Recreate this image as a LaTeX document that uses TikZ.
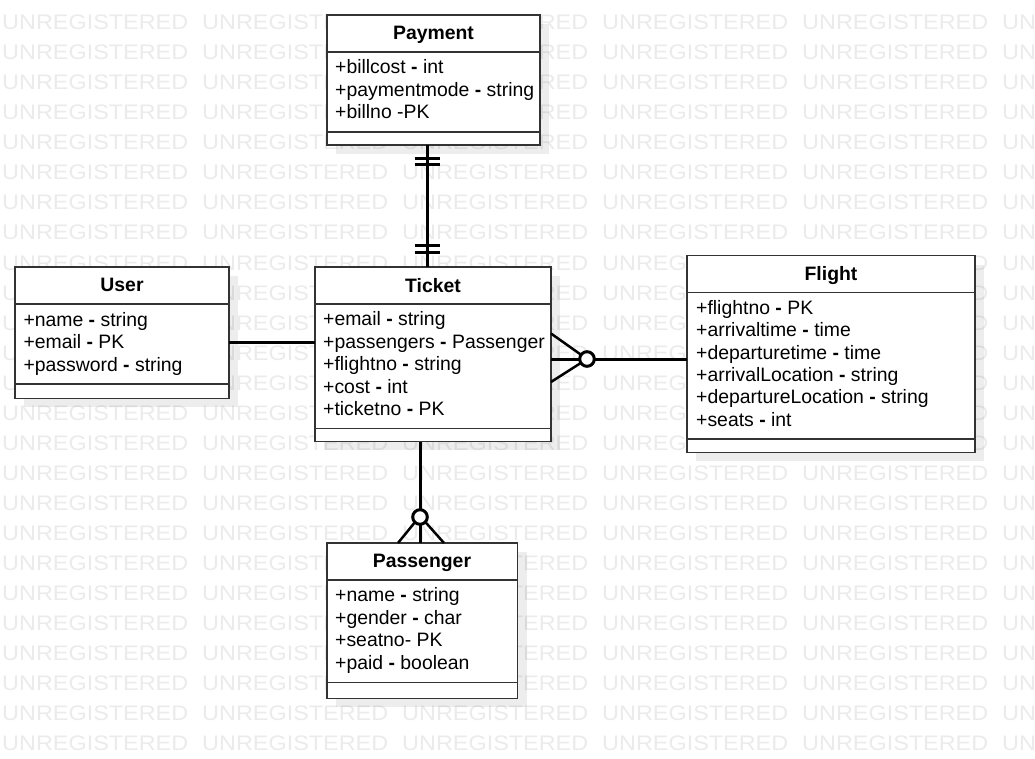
\documentclass[tikz,border=0pt]{standalone}
\usepackage{fontspec}
\setmainfont{Liberation Sans}
\usetikzlibrary{calc}
\begin{document}
\begin{tikzpicture}[x=1pt,y=-1pt,
  box/.style={draw=black!80, line width=1.3pt, fill=white, inner sep=0pt, outer sep=0pt, anchor=north west},
  shadowbox/.style={fill=black, opacity=0.07, draw=none},
  sepline/.style={draw=black!80, line width=1.3pt},
  title/.style={font=\bfseries\fontsize{19.4}{22}\selectfont, anchor=base, inner sep=0pt},
  attr/.style={font=\fontsize{19.4}{22}\selectfont, anchor=base west, inner sep=0pt},
  conn/.style={line width=3pt, draw=black},
  leg/.style={line width=2.5pt, draw=black},
  wm/.style={font=\fontsize{21}{21}\selectfont, text=black!8, anchor=base west, inner sep=0pt}]
\useasboundingbox (0,0) rectangle (1035,759);
\begin{scope}
\clip (0,0) rectangle (1035,759);
\fill[white] (0,0) rectangle (1035,759);
\foreach \r in {0,...,24} {
  \foreach \c in {0,...,5} {
    \node[wm] (w\r-\c) at ({2+200*\c},{30+30*\r}) {\scalebox{1.115}[1]{UNREGISTERED}};
  }
}
\end{scope}
% shadows
\fill[shadowbox] (336,24) rectangle (549,154);
\fill[shadowbox] (324,276) rectangle (560,450);
\fill[shadowbox] (24,276) rectangle (238,407);
\fill[shadowbox] (696,264.5) rectangle (984,461);
\fill[shadowbox] (336,552) rectangle (526.5,707);
% boxes
\node[box, minimum width=213pt, minimum height=130pt] (pay) at (327,15) {};
\node[box, minimum width=236pt, minimum height=174.5pt] (tk) at (315,267) {};
\node[box, minimum width=214pt, minimum height=131.5pt] (us) at (15,267) {};
\node[box, minimum width=288pt, minimum height=197pt] (fl) at (687,255.5) {};
\node[box, minimum width=190.5pt, minimum height=155.5pt] (ps) at (327,543) {};
% compartments
\draw[sepline] ($(pay.north west)+(0,37)$) -- ($(pay.north east)+(0,37)$);
\draw[sepline] ($(pay.north west)+(0,117)$) -- ($(pay.north east)+(0,117)$);
\draw[sepline] ($(tk.north west)+(0,37)$) -- ($(tk.north east)+(0,37)$);
\draw[sepline] ($(tk.north west)+(0,161.7)$) -- ($(tk.north east)+(0,161.7)$);
\draw[sepline] ($(us.north west)+(0,37)$) -- ($(us.north east)+(0,37)$);
\draw[sepline] ($(us.north west)+(0,117)$) -- ($(us.north east)+(0,117)$);
\draw[sepline] ($(fl.north west)+(0,36.8)$) -- ($(fl.north east)+(0,36.8)$);
\draw[sepline] ($(fl.north west)+(0,183.5)$) -- ($(fl.north east)+(0,183.5)$);
\draw[sepline] ($(ps.north west)+(0,37)$) -- ($(ps.north east)+(0,37)$);
\draw[sepline] ($(ps.north west)+(0,139.7)$) -- ($(ps.north east)+(0,139.7)$);
% Payment
\node[title] (payT) at (433.5,40) {Payment};
\node[attr] (pay1) at (335,74) {+billcost \textbf{-} int};
\node[attr] (pay2) at (335,96.3) {+paymentmode \textbf{-} string};
\node[attr] (pay3) at (335,118.6) {+billno -PK};
% Ticket
\node[title] (tkT) at (433,292) {Ticket};
\node[attr] (tk1) at (323,325.7) {+email \textbf{-} string};
\node[attr] (tk2) at (323,348.2) {+passengers \textbf{-} Passenger};
\node[attr] (tk3) at (323,370.7) {+flightno \textbf{-} string};
\node[attr] (tk4) at (323,393.2) {+cost \textbf{-} int};
\node[attr] (tk5) at (323,415.7) {+ticketno \textbf{-} PK};
% User
\node[title] (usT) at (122,291.7) {User};
\node[attr] (us1) at (23.3,326) {+name \textbf{-} string};
\node[attr] (us2) at (23.3,348.5) {+email \textbf{-} PK};
\node[attr] (us3) at (23.3,371) {+password \textbf{-} string};
% Flight
\node[title] (flT) at (831,280) {Flight};
\node[attr] (fl1) at (696,314.3) {+flightno \textbf{-} PK};
\node[attr] (fl2) at (696,336.7) {+arrivaltime \textbf{-} time};
\node[attr] (fl3) at (696,359) {+departuretime \textbf{-} time};
\node[attr] (fl4) at (696,381.3) {+arrivalLocation \textbf{-} string};
\node[attr] (fl5) at (696,403.6) {+departureLocation \textbf{-} string};
\node[attr] (fl6) at (696,426) {+seats \textbf{-} int};
% Passenger
\node[title] (psT) at (422,567.3) {Passenger};
\node[attr] (ps1) at (335,601.7) {+name \textbf{-} string};
\node[attr] (ps2) at (335,624.2) {+gender \textbf{-} char};
\node[attr] (ps3) at (335,646.7) {+seatno- PK};
\node[attr] (ps4) at (335,669.2) {+paid \textbf{-} boolean};
% connectors
\coordinate (xpt) at (427,0);
\coordinate (yut) at (0,342);
\coordinate (ytf) at (0,359);
\coordinate (xtp) at (420,0);
% Payment - Ticket (one and only one at both ends)
\draw[conn] (pay.south -| xpt) -- (tk.north -| xpt);
\draw[conn] ($(pay.south -| xpt)+(-12.5,13.3)$) -- ++(25,0);
\draw[conn] ($(pay.south -| xpt)+(-12.5,19.3)$) -- ++(25,0);
\draw[conn] ($(tk.north -| xpt)+(-12.5,-21)$) -- ++(25,0);
\draw[conn] ($(tk.north -| xpt)+(-12.5,-14.7)$) -- ++(25,0);
% User - Ticket
\draw[conn] (us.east |- yut) -- (tk.west |- yut);
% Ticket - Flight (zero or many at Ticket)
\draw[conn] (tk.east |- ytf) -- (fl.west |- ytf);
\draw[leg] ($(tk.east |- ytf)+(0,-25.5)$) -- ($(tk.east |- ytf)+(36,0)$);
\draw[leg] ($(tk.east |- ytf)+(0,23)$) -- ($(tk.east |- ytf)+(36,0)$);
\draw[conn, fill=white] ($(tk.east |- ytf)+(36,0)$) circle (7.3pt);
% Ticket - Passenger (zero or many at Passenger)
\draw[conn] (tk.south -| xtp) -- (ps.north -| xtp);
\draw[leg] ($(ps.north -| xtp)+(-22,0)$) -- ($(ps.north -| xtp)+(0,-27)$);
\draw[leg] ($(ps.north -| xtp)+(24,0)$) -- ($(ps.north -| xtp)+(0,-27)$);
\draw[conn, fill=white] ($(ps.north -| xtp)+(0,-26)$) circle (7.3pt);
\end{tikzpicture}
\end{document}
